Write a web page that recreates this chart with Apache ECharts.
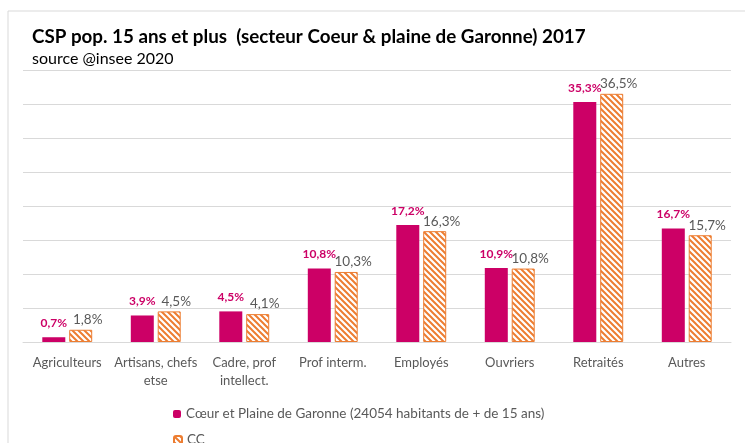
<!DOCTYPE html>
<html><head><meta charset="utf-8">
<script src="https://cdn.jsdelivr.net/npm/echarts@6/dist/echarts.min.js"></script>
<style>html,body{margin:0;padding:0;background:#fff}#c{width:745px;height:443px}</style>
</head><body><div id="c"></div>
<script>
const categories = ['Agriculteurs', 'Artisans, chefs\netse', 'Cadre, prof\nintellect.', 'Prof interm.', 'Employés', 'Ouvriers', 'Retraités', 'Autres'];
const coeurValues = [0.7, 3.9, 4.5, 10.8, 17.2, 10.9, 35.3, 16.7];
const ccValues = [1.8, 4.5, 4.1, 10.3, 16.3, 10.8, 36.5, 15.7];
const seriesNames = ['Cœur et Plaine de Garonne (24054 habitants de + de 15 ans)', 'CC'];

function hatch() {
  const s = 6;
  const c = document.createElement('canvas');
  c.width = s; c.height = s;
  const g = c.getContext('2d');
  g.fillStyle = '#fff'; g.fillRect(0, 0, s, s);
  g.strokeStyle = '#ED7D31'; g.lineWidth = 2;
  g.beginPath();
  g.moveTo(-1, -1); g.lineTo(s + 1, s + 1);
  g.moveTo(-1 - s, -1); g.lineTo(1, s + 1);
  g.moveTo(s - 1, -1); g.lineTo(2 * s + 1, s + 1);
  g.stroke();
  return c;
}
const fmt = p => p.value.toFixed(1).replace('.', ',') + '%';
const font = 'Lato, "Open Sans", sans-serif';
const legendBase = {
  orient: 'horizontal', left: 168, itemWidth: 8, itemHeight: 8, itemGap: 6,
  textStyle: { fontSize: 13.5, color: '#595959', fontFamily: font }
};
const chart = echarts.init(document.getElementById('c'));
chart.setOption({
  animation: false,
  textStyle: { fontFamily: font },
  graphic: [{ type: 'rect', shape: { x: 8, y: 11, width: 760, height: 460 }, style: { fill: 'none', stroke: '#d9d9d9', lineWidth: 1 }, silent: true }],
  title: {
    text: 'CSP pop. 15 ans et plus  (secteur Coeur & plaine de Garonne) 2017',
    subtext: 'source @insee 2020',
    left: 27, top: 22, itemGap: 5,
    textStyle: { fontSize: 18.8, fontWeight: 'bold', color: '#000', fontFamily: font },
    subtextStyle: { fontSize: 16, color: '#000', fontFamily: font }
  },
  legend: [
    Object.assign({}, legendBase, { top: 402, data: [seriesNames[0]] }),
    Object.assign({}, legendBase, { top: 428, data: [seriesNames[1]] })
  ],
  grid: { left: 23, right: 14, top: 70, bottom: 101, containLabel: false },
  xAxis: {
    type: 'category', data: categories,
    axisLine: { lineStyle: { color: '#d9d9d9' } }, axisTick: { show: false },
    axisLabel: { fontSize: 13, color: '#595959', margin: 12, lineHeight: 18, interval: 0, fontFamily: font }
  },
  yAxis: {
    type: 'value', min: 0, max: 40, interval: 5,
    axisLabel: { show: false }, axisLine: { show: false }, axisTick: { show: false },
    splitLine: { lineStyle: { color: '#d9d9d9' } }
  },
  series: [
    { name: seriesNames[0], type: 'bar', data: coeurValues, barWidth: 23, barGap: '17%',
      itemStyle: { color: '#CC0066' },
      label: { show: true, position: 'top', formatter: fmt, color: '#CC0066', fontWeight: 'bold', fontSize: 12, distance: 8, fontFamily: font } },
    { name: seriesNames[1], type: 'bar', data: ccValues, barWidth: 23, barGap: '17%',
      itemStyle: { color: { image: hatch(), repeat: 'repeat' }, borderColor: '#ED7D31', borderWidth: 1 },
      label: { show: true, position: 'top', formatter: fmt, color: '#595959', fontSize: 13.5, distance: 3, offset: [7, 0], fontFamily: font } }
  ]
});
</script></body></html>
